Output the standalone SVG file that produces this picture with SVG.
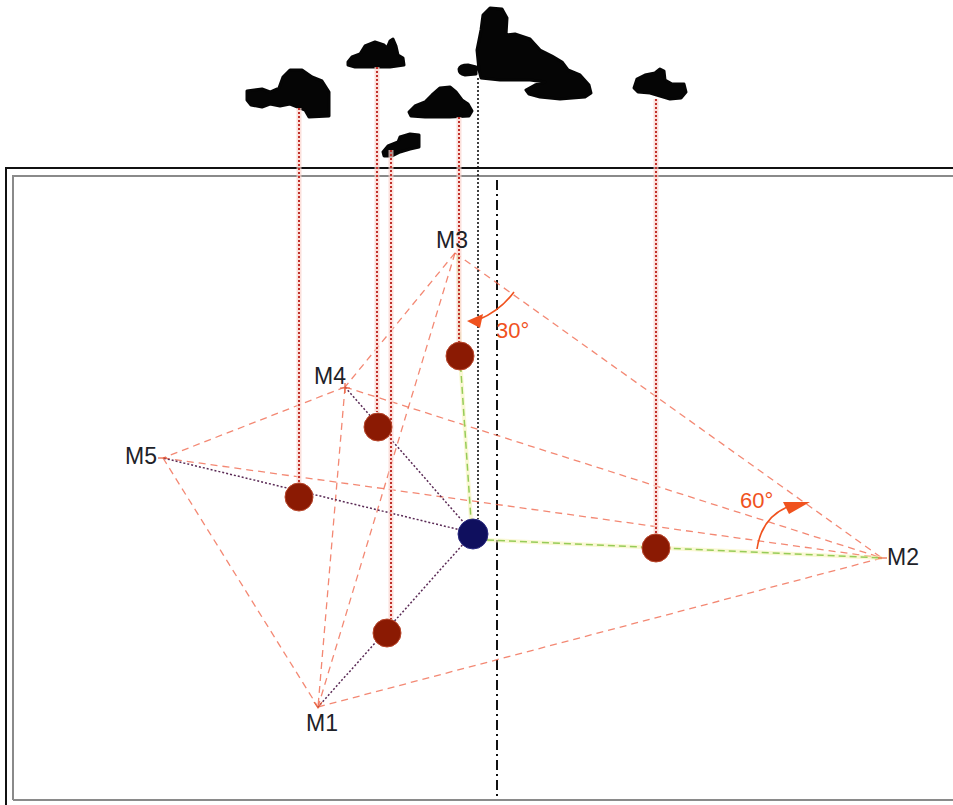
<svg xmlns="http://www.w3.org/2000/svg" width="953" height="805" viewBox="0 0 953 805">
  <style>
    .lbl { font-family: "Liberation Sans", Arial, sans-serif; font-size: 23px; fill: #1e2228; }
    .ang { font-family: "Liberation Sans", Arial, sans-serif; font-size: 22px; fill: #f0521e; }
    .frame-outer { fill: none; stroke: #111; stroke-width: 2; }
    .frame-inner { fill: none; stroke: #8a8a8a; stroke-width: 2; }
    .dash { fill: none; stroke: #f06a50; stroke-width: 1.3; stroke-dasharray: 7 5; opacity: 0.8; }
    .halo { fill: none; stroke: #fbd3cc; stroke-width: 5; opacity: 0.7; }
    .drop { fill: none; stroke: #c0302a; stroke-width: 2; stroke-dasharray: 2 2; }
    .plumb { fill: none; stroke: #111; stroke-width: 1.6; stroke-dasharray: 2 2; }
    .axis { fill: none; stroke: #111; stroke-width: 2; stroke-dasharray: 10 4 2 4; }
    .ray { fill: none; stroke: #5a2a55; stroke-width: 1.5; stroke-dasharray: 2 2; }
    .glow { fill: none; stroke: #f6f3b8; stroke-width: 4; opacity: 0.6; }
    .green { fill: none; stroke: #96cc58; stroke-width: 1.5; stroke-dasharray: 7 4; }
    .arc { fill: none; stroke: #f0521e; stroke-width: 1.6; }
    .head { fill: #f0521e; }
    .ball { fill: #8b1a03; stroke: #b8452a; stroke-width: 1; }
    .hub { fill: #0f0f5e; stroke: #2a2a80; stroke-width: 1; }
    .blob { fill: #050505; stroke: #050505; stroke-width: 3; stroke-linejoin: round; }
    .pt { fill: none; stroke: #e8603c; stroke-width: 1.2; }
  </style>

  <!-- frame -->
  <g id="frame">
    <path class="frame-outer" d="M6,805 V168 H953"/>
    <path class="frame-inner" d="M13,800 V176 H953 M13,800 H953"/>
  </g>

  <!-- silhouettes above the frame -->
  <g id="silhouettes">
    <path id="s1" class="blob" d="M247,91 L262,89 L270,92 L279,88 L283,77 L290,70 L302,70 L312,77 L322,81 L329,92 L329,116 L309,117 L305,110 L290,104 L280,106 L270,104 L262,107 L251,105 L247,100 Z"/>
    <path id="s2" class="blob" d="M348,62 L352,57 L360,54 L365,46 L375,42 L384,45 L387,48 L390,41 L393,39 L396,46 L398,55 L403,58 L404,65 L390,67 L370,67 L355,67 L348,65 Z"/>
    <path id="s3" class="blob" d="M383,152 L388,146 L398,142 L400,137 L410,134 L419,135 L419,147 L410,149 L400,152 L392,156 L384,156 Z"/>
    <path id="s4" class="blob" d="M409,112 L415,106 L425,102 L432,95 L440,88 L450,87 L456,92 L462,100 L468,104 L472,111 L469,116 L450,117 L425,117 L411,116 Z"/>
    <path id="s5" class="blob" d="M479,70 L477,50 L481,30 L483,15 L490,8 L502,9 L507,18 L506,35 L515,34 L530,39 L540,50 L552,56 L562,62 L568,70 L580,75 L589,85 L591,93 L585,97 L560,99 L540,97 L529,94 L526,90 L535,85 L545,82 L530,80 L500,80 L481,78 Z M459,69 Q460,65 468,65 L476,67 L476,74 L465,75 Q459,74 459,69 Z"/>
    <path id="s6" class="blob" d="M634,88 L637,79 L645,75 L655,73 L660,69 L664,71 L665,80 L672,84 L684,84 L686,92 L681,98 L670,99 L660,96 L650,93 L638,92 Z"/>
  </g>

  <!-- connectors -->
  <g id="connectors">
    <!-- centre axis -->
    <path class="axis" d="M497,180 V799"/>

    <!-- dashed mesh between the stations -->
    <path class="dash" d="M455,253 L882,558"/>
    <path class="dash" d="M455,253 L345,387"/>
    <path class="dash" d="M455,253 L318,707"/>
    <path class="dash" d="M345,387 L163,458"/>
    <path class="dash" d="M345,387 L882,558"/>
    <path class="dash" d="M345,387 L318,707"/>
    <path class="dash" d="M163,458 L882,558"/>
    <path class="dash" d="M163,458 L318,707"/>
    <path class="dash" d="M318,707 L882,558"/>

    <!-- rays from the hub -->
    <path class="ray" d="M473,533 L345,387"/>
    <path class="ray" d="M473,533 L163,458"/>
    <path class="ray" d="M473,533 L318,707"/>
    <path class="glow" d="M458,255 L460,357 L471,520"/>
    <path class="green" d="M458,255 L460,357 L471,520"/>
    <path class="glow" d="M487,540 L882,558"/>
    <path class="green" d="M487,540 L882,558"/>

    <!-- vertical drops from the silhouettes -->
    <g>
      <path class="halo" d="M299,108 V483"/>
      <path class="halo" d="M377,67 V412"/>
      <path class="halo" d="M391,150 V619"/>
      <path class="halo" d="M459,117 V343"/>
      <path class="halo" d="M656,99 V534"/>
      <path class="drop" d="M299,108 V483"/>
      <path class="drop" d="M377,67 V412"/>
      <path class="drop" d="M391,150 V619"/>
      <path class="drop" d="M459,117 V343"/>
      <path class="drop" d="M656,99 V534"/>
    </g>
    <path class="plumb" d="M478,78 V519"/>

    <!-- angle arcs -->
    <path class="arc" d="M514,292 Q500,311 478,320"/>
    <path class="head" d="M467,321 L483,314 L480,328 Z"/>
    <path class="arc" d="M757,549 Q762,516 790,506"/>
    <path class="head" d="M810,502 L783,502 L789,514 Z"/>
  </g>

  <!-- balls -->
  <g id="balls">
    <circle id="b1" class="ball" cx="460" cy="356" r="14"/>
    <circle id="b2" class="ball" cx="378" cy="427" r="14"/>
    <circle id="b3" class="ball" cx="299" cy="497" r="14"/>
    <circle id="b4" class="ball" cx="656" cy="548" r="14"/>
    <circle id="b5" class="ball" cx="387" cy="633" r="14"/>
  </g>
  <g id="hub">
    <circle class="hub" cx="473" cy="534" r="15"/>
  </g>

  <!-- stations -->
  <g id="M3"><text class="lbl" x="436" y="248">M3</text></g>
  <g id="M4"><text class="lbl" x="314" y="384">M4</text><path class="pt" d="M340,388 H350 M345,383 V393"/></g>
  <g id="M5"><text class="lbl" x="125" y="464">M5</text><path class="pt" d="M158,458 H167"/></g>
  <g id="M2"><text class="lbl" x="887" y="565">M2</text><path class="pt" d="M878,558 H887"/></g>
  <g id="M1"><text class="lbl" x="306" y="731">M1</text><path class="pt" d="M314,702 L318,708 L322,702"/></g>

  <!-- angle labels -->
  <g id="angle30"><text class="ang" x="496" y="338">30°</text></g>
  <g id="angle60"><text class="ang" x="740" y="508">60°</text></g>
</svg>
